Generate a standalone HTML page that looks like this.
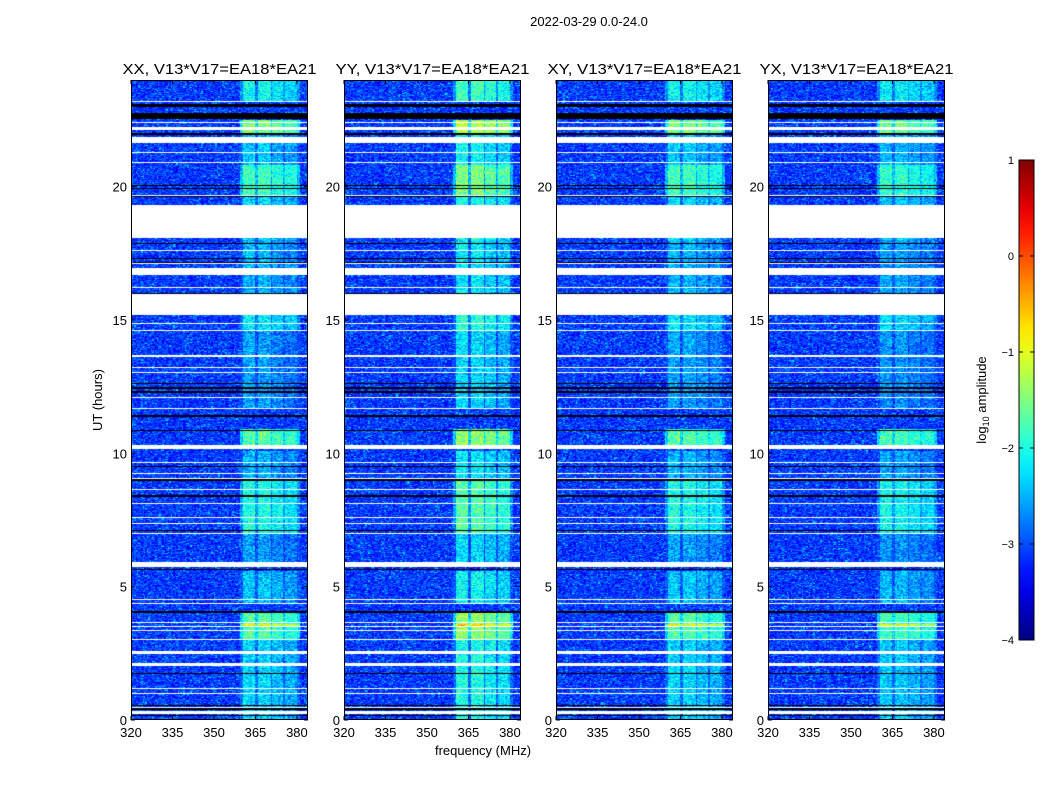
<!DOCTYPE html>
<html><head><meta charset="utf-8"><style>
body{margin:0;background:#fff;}
#root{position:relative;width:1050px;height:800px;overflow:hidden;font-family:"Liberation Sans",sans-serif;}
canvas{position:absolute;}
svg{position:absolute;left:0;top:0;}
</style></head><body>
<div id="root">
<svg id="ov" width="1050" height="800"></svg>
</div>
<script>
// ---- data ----
const panelTitles = ["XX, V13*V17=EA18*EA21","YY, V13*V17=EA18*EA21","XY, V13*V17=EA18*EA21","YX, V13*V17=EA18*EA21"];
const panelRfiBoost = [0, 0.3, 0.0, -0.1];
const xTicks = [320,335,350,365,380];
const yTicks = [0,5,10,15,20];
const cbTicks = [1,0,-1,-2,-3,-4];
const cbTickLabels = ["1","0","\u22121","\u22122","\u22123","\u22124"];
const whiteBands = [[23.16,23.21],[22.37,22.43],[22.13,22.24],[21.64,21.86],[21.26,21.30],[20.89,20.93],[19.65,19.69],[18.08,19.31],[17.59,17.63],[17.10,17.14],[16.69,16.95],[16.20,16.24],[15.19,15.98],[14.85,14.89],[14.59,14.63],[13.61,13.69],[13.2,13.24],[13.01,13.05],[12.08,12.11],[11.66,11.7],[10.16,10.31],[9.64,9.68],[9.23,9.26],[9.04,9.08],[8.63,8.66],[8.1,8.14],[7.58,7.61],[7.35,7.39],[6.98,7.01],[5.74,5.93],[4.5,4.54],[4.35,4.39],[3.64,3.68],[3.49,3.53],[3.34,3.38],[3.0,3.04],[2.48,2.59],[2.03,2.14],[1.16,1.2],[0.98,1.01],[0.45,0.49],[0.23,0.34]];
const blackBands = [[22.99,23.1],[22.54,22.76],[21.94,22.01],[20.03,20.07],[19.91,19.95],[19.61,19.65],[17.85,17.89],[17.29,17.33],[17.14,17.18],[15.98,16.01],[12.6,12.64],[12.43,12.47],[12.28,12.32],[11.38,11.42],[10.82,10.86],[9.47,9.51],[8.98,9.02],[8.38,8.42],[7.1,7.14],[5.63,5.68],[4.03,4.07],[1.74,1.78],[0.53,0.57],[0.38,0.45],[0.15,0.19]];
const rfiBands = [[360.4,364.8],[365.8,370.5],[370.9,374.9],[375.6,379.9]];
const rfiBandGain = [0.1, 0.1, -0.05, -0.15];
const rfiSegments = [[23.2,24,-2.2],[22.0,22.5,-1.6],[21.6,22.0,-2.5],[20.8,21.6,-2.5],[19.7,20.8,-1.9],[18.0,19.7,-2.4],[15.2,18.0,-2.6],[14.6,15.2,-2.3],[11.7,14.6,-2.7],[10.3,10.9,-1.8],[9.0,10.1,-2.6],[7.0,9.0,-2.1],[5.9,7.0,-2.7],[4.4,5.6,-2.5],[3.0,4.0,-1.8],[3.5,3.6,-1.0],[2.0,3.0,-2.4],[0,2.0,-2.4]];
const baseLevel = -3.1;
// ---- geometry ----
const panelX = [131,344,556,768], pw = 177, py0 = 80, ph = 640;
const fMin = 320, fMax = 384, tMin = 0, tMax = 24;
const xs = (f,i)=>panelX[i] + (f-fMin)/(fMax-fMin)*pw;
const ys = t=>py0 + (tMax-t)/(tMax-tMin)*ph;
function jet(v){let t=Math.max(0,Math.min(1,(v+4)/5));
 const r=Math.min(4*t-1.5,-4*t+4.5),g=Math.min(4*t-0.5,-4*t+3.5),b=Math.min(4*t+0.5,-4*t+2.5);
 const c=x=>Math.round(255*Math.max(0,Math.min(1,x)));return [c(r),c(g),c(b)];}
function hash(a,b){let h=(a*374761393+b*668265263)|0;h=(h^(h>>>13))*1274126177|0;return ((h^(h>>>16))>>>0)/4294967295;}
const root=document.getElementById('root');
const NS='http://www.w3.org/2000/svg';
const ov=document.getElementById('ov');
function el(tag,attrs,txt){const e=document.createElementNS(NS,tag);for(const k in attrs)e.setAttribute(k,attrs[k]);if(txt!==undefined)e.textContent=txt;ov.appendChild(e);return e;}
for(let p=0;p<4;p++){
 const cv=document.createElement('canvas');
 
 
 cv.width=pw;cv.height=ph;cv.style.left=panelX[p]+'px';cv.style.top=py0+'px';
 root.insertBefore(cv,ov);
 const ctx=cv.getContext('2d');const img=ctx.createImageData(pw,ph);
 for(let yy=0;yy<ph;yy++){
  const t=tMax-(yy+0.5)/ph*(tMax-tMin);
  let white=whiteBands.some(b=>t>=b[0]&&t<=b[1]);
  let black=blackBands.some(b=>t>=b[0]&&t<=b[1]);
  let lvl=null;for(const s of rfiSegments){if(t>=s[0]&&t<s[1])lvl=s[2];}
  for(let xx=0;xx<pw;xx++){
   const k=(yy*pw+xx)*4;let col;
   if(white)col=[255,255,255];else if(black)col=[0,0,0];
   else{
    const f=fMin+(xx+0.5)/pw*(fMax-fMin);
    const cx=Math.floor(xx/1.4);
    const n=hash(cx+p*1000,yy);
    let v=baseLevel+(n-0.5)*0.8+(n>0.93?0.35:0);
    for(let bi=0;bi<rfiBands.length;bi++){const b=rfiBands[bi];
     if(f>=b[0]&&f<=b[1]&&lvl!==null){const r=lvl+panelRfiBoost[p]+rfiBandGain[bi]+(hash(cx,yy+7*p)-0.5)*0.9;if(r>v)v=r;}}
    if(lvl!==null&&f>=359.5&&f<=381){const r=lvl-0.55+(hash(cx+55,yy+3*p)-0.5)*0.9;if(r>v)v=r;}
    col=jet(v);
   }
   img.data[k]=col[0];img.data[k+1]=col[1];img.data[k+2]=col[2];img.data[k+3]=255;
  }
 }
 ctx.putImageData(img,0,0);
 const fr=el('rect',{x:panelX[p]+0.5,y:py0+0.5,width:pw-1,height:ph-1,fill:'none',stroke:'#000','stroke-width':1});
 
 const tt=el('text',{x:panelX[p]+pw/2,y:74,'text-anchor':'middle','font-size':15,'textLength':194,'lengthAdjust':'spacingAndGlyphs'},panelTitles[p]);
 
 for(const f of xTicks){const x=xs(f,p);
  el('line',{x1:x,x2:x,y1:py0+ph,y2:py0+ph-4,stroke:'#000'});
  el('line',{x1:x,x2:x,y1:py0,y2:py0+4,stroke:'#000'});
  const tl=el('text',{x:x,y:py0+ph+17,'text-anchor':'middle','font-size':13},String(f));
  }
 for(const t of yTicks){const y=ys(t);
  el('line',{x1:panelX[p],x2:panelX[p]+4,y1:y,y2:y,stroke:'#000'});
  el('line',{x1:panelX[p]+pw,x2:panelX[p]+pw-4,y1:y,y2:y,stroke:'#000'});
  const tl=el('text',{x:panelX[p]-4,y:y+5,'text-anchor':'end','font-size':13},String(t));
  }
}
let e=el('text',{x:589,y:26,'text-anchor':'middle','font-size':13},'2022-03-29 0.0-24.0');

e=el('text',{x:483,y:755,'text-anchor':'middle','font-size':13},'frequency (MHz)');

e=el('text',{x:102,y:400,'text-anchor':'middle','font-size':13,transform:'rotate(-90 102 400)'},'UT (hours)');

const cbx=1019,cbw=15,cby0=160,cbh=480;
const cbs=v=>cby0+(1-v)/5*cbh;
const defs=el('defs',{});
const lg=document.createElementNS(NS,'linearGradient');lg.setAttribute('id','jetg');lg.setAttribute('x1','0');lg.setAttribute('y1','1');lg.setAttribute('x2','0');lg.setAttribute('y2','0');
for(let i=0;i<=20;i++){const c=jet(-4+i*0.25);const s=document.createElementNS(NS,'stop');s.setAttribute('offset',(i/20));s.setAttribute('stop-color','rgb('+c.join(',')+')');lg.appendChild(s);}
defs.appendChild(lg);
e=el('rect',{x:cbx,y:cby0,width:cbw,height:cbh,fill:'url(#jetg)',stroke:'#000','stroke-width':1});

cbTicks.forEach((v,i)=>{const y=cbs(v);
 el('line',{x1:cbx,x2:cbx+4,y1:y,y2:y,stroke:'#000'});
 el('line',{x1:cbx+cbw,x2:cbx+cbw-4,y1:y,y2:y,stroke:'#000'});
 const tl=el('text',{x:cbx-5,y:y+4,'text-anchor':'end','font-size':11},cbTickLabels[i]);
 });
e=el('text',{x:986,y:400,'text-anchor':'middle','font-size':13,transform:'rotate(-90 986 400)'});
e.innerHTML='log<tspan font-size="9" dy="3">10</tspan><tspan dy="-3"> amplitude</tspan>';

</script>
</body></html>
